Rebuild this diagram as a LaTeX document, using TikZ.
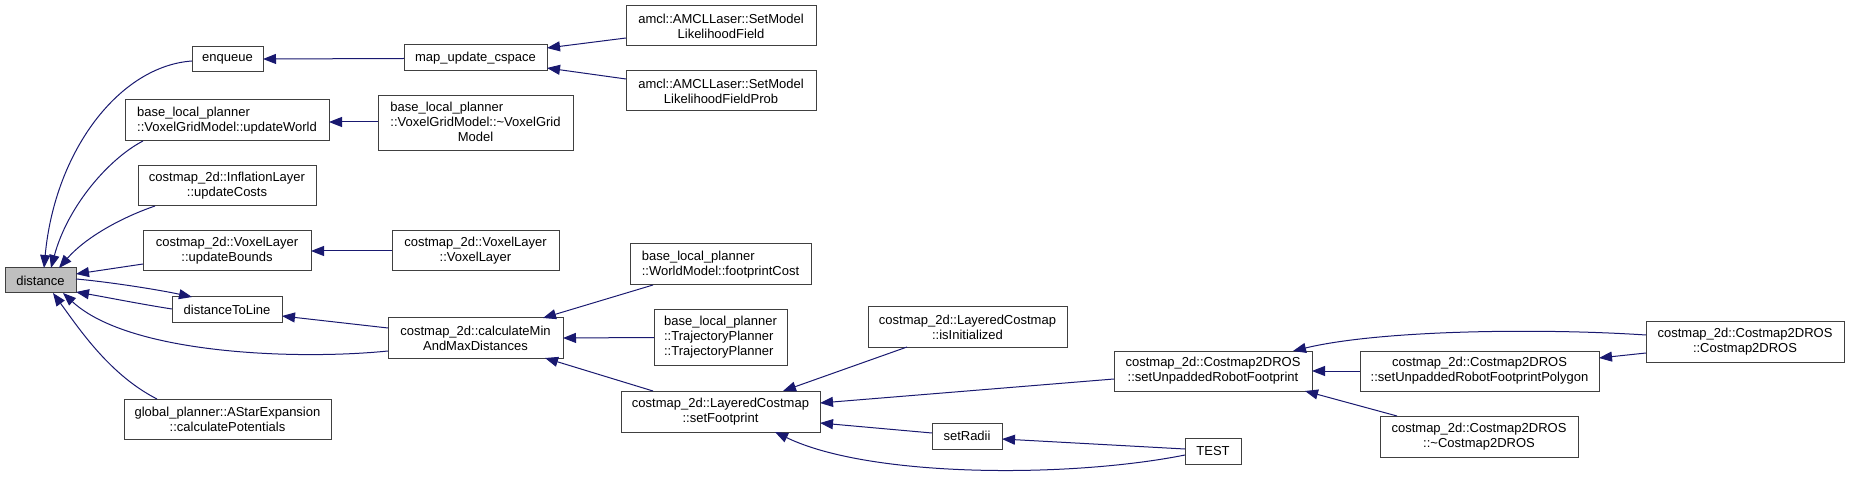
\documentclass[tikz,border=0pt]{standalone}
\usepackage{fontspec}
\setmainfont{Liberation Sans}
\usetikzlibrary{arrows.meta}
\definecolor{edgeblue}{HTML}{191970}
\definecolor{nodeborder}{HTML}{404040}
\definecolor{hlfill}{HTML}{BFBFBF}
\newcommand\gbox[7][]{\node[gnode,#1,minimum width={(#5-#3)*0.75pt},minimum height={(#6-#4)*0.75pt}] (#2) at ({(#3+#5)/2},{(#4+#6)/2}) {#7};}
\tikzset{
  gnode/.style={draw=nodeborder, fill=white, inner sep=0pt, outer sep=0pt, line width=0.75pt,
    font=\fontsize{9.75pt}{11.25pt}\selectfont, align=center},
  gedge/.style={draw=edgeblue, line width=0.75pt, -{Triangle[length=9.75pt,width=7.5pt,fill=edgeblue]}}
}
\begin{document}
\begin{tikzpicture}[x=0.75pt,y=-0.75pt]
\fill[white] (0,0) rectangle (1849,477);
\useasboundingbox (0,0) rectangle (1849,477);
% rank 0
\gbox[fill=hlfill]{dist}{5}{268}{76}{293}{distance}
% rank 1
\gbox{enq}{192}{47}{263}{72}{enqueue}
\gbox[align=left]{uw}{125}{100}{329}{141}{base\_local\_planner\\::VoxelGridModel::updateWorld}
\gbox{uc}{138}{166}{316}{206}{costmap\_2d::InflationLayer\\::updateCosts}
\gbox{ub}{143}{231}{311}{271}{costmap\_2d::VoxelLayer\\::updateBounds}
\gbox{dtl}{172}{297}{282}{323}{distanceToLine}
\gbox{cp}{124}{399}{331}{439}{global\_planner::AStarExpansion\\::calculatePotentials}
% rank 2
\gbox{muc}{404}{45}{547}{71}{map\_update\_cspace}
\gbox{vgm}{378}{96}{573}{151}{\begin{tabular}{@{}l@{}}base\_local\_planner\\::VoxelGridModel::\textasciitilde VoxelGrid\\\multicolumn{1}{@{}c@{}}{Model}\end{tabular}}
\gbox{vl}{392}{231}{559}{271}{costmap\_2d::VoxelLayer\\::VoxelLayer}
\gbox{cmm}{388}{318}{563}{358}{costmap\_2d::calculateMin\\AndMaxDistances}
% rank 3
\gbox{lf}{626}{6}{816}{46}{amcl::AMCLLaser::SetModel\\LikelihoodField}
\gbox{lfp}{626}{71}{816}{111}{amcl::AMCLLaser::SetModel\\LikelihoodFieldProb}
\gbox[align=left]{fc}{630}{244}{811}{285}{base\_local\_planner\\::WorldModel::footprintCost}
\gbox[align=left]{tp}{654}{310}{787}{365}{base\_local\_planner\\::TrajectoryPlanner\\::TrajectoryPlanner}
\gbox{sf}{621}{391}{820}{432}{costmap\_2d::LayeredCostmap\\::setFootprint}
% rank 4
\gbox{ii}{868}{307}{1067}{347}{costmap\_2d::LayeredCostmap\\::isInitialized}
\gbox{sr}{932}{423}{1002}{449}{setRadii}
% rank 5
\gbox{sur}{1114}{351}{1312}{391}{costmap\_2d::Costmap2DROS\\::setUnpaddedRobotFootprint}
\gbox{test}{1185}{438}{1241}{464}{TEST}
% rank 6
\gbox{surp}{1360}{351}{1599}{391}{costmap\_2d::Costmap2DROS\\::setUnpaddedRobotFootprintPolygon}
\gbox{dc}{1380}{416}{1578}{457}{costmap\_2d::Costmap2DROS\\::\textasciitilde Costmap2DROS}
% rank 7
\gbox{cc}{1646}{322}{1844}{362}{costmap\_2d::Costmap2DROS\\::Costmap2DROS}
% edges
\draw[gedge] ([shift={(0,1.5)}]enq.west) .. controls (120,66) and (55,150) .. ([shift={(39,0)}]dist.north west);
\draw[gedge] ([shift={(18,0)}]uw.south west) .. controls (110,158) and (68,205) .. ([shift={(46,0)}]dist.north west);
\draw[gedge] ([shift={(17,0)}]uc.south west) .. controls (120,218) and (85,238) .. ([shift={(54,0)}]dist.north west);
\draw[gedge] ([shift={(0,13)}]ub.west) -- ([shift={(0,-6.5)}]dist.east);
\draw[gedge] ([shift={(0,-1.5)}]dist.east) .. controls (110,282) and (160,290) .. ([shift={(20,0)}]dtl.north west);
\draw[gedge] ([shift={(0,-1)}]dtl.west) .. controls (140,304) and (105,297) .. ([shift={(0,-1)}]dist.south east);
\draw[gedge] ([shift={(0,13)}]cmm.west) .. controls (300,360) and (130,355) .. ([shift={(58,0)}]dist.south west);
\draw[gedge] ([shift={(33,0)}]cp.north west) .. controls (110,375) and (80,330) .. ([shift={(48,0)}]dist.south west);
\draw[gedge] ([shift={(0,0.5)}]muc.west) -- ([shift={(0,-0.5)}]enq.east);
\draw[gedge] ([shift={(0,-1.5)}]vgm.west) -- ([shift={(0,1.5)}]uw.east);
\draw[gedge] (vl.west) -- (ub.east);
\draw[gedge] ([shift={(0,12)}]lf.west) -- ([shift={(0,-10)}]muc.east);
\draw[gedge] ([shift={(0,-12)}]lfp.west) -- ([shift={(0,10)}]muc.east);
\draw[gedge] ([shift={(0,-10)}]cmm.west) -- ([shift={(0,6)}]dtl.east);
\draw[gedge] ([shift={(23,0)}]fc.south west) -- ([shift={(-20,0)}]cmm.north east);
\draw[gedge] (tp.west) -- (cmm.east);
\draw[gedge] ([shift={(32,0)}]sf.north west) -- ([shift={(-18,0)}]cmm.south east);
\draw[gedge] ([shift={(39,0)}]ii.south west) -- ([shift={(-37,0)}]sf.north east);
\draw[gedge] ([shift={(0,8)}]sur.west) -- ([shift={(0,-8.5)}]sf.east);
\draw[gedge] ([shift={(0,-3)}]sr.west) -- ([shift={(0,11.5)}]sf.east);
\draw[gedge] ([shift={(0,4)}]test.west) .. controls (1070,478) and (870,478) .. ([shift={(-45,0)}]sf.south east);
\draw[gedge] ([shift={(0,-2)}]test.west) -- ([shift={(0,3)}]sr.east);
\draw[gedge] (surp.west) -- (sur.east);
\draw[gedge] ([shift={(17,0)}]dc.north west) -- ([shift={(-7,0)}]sur.south east);
\draw[gedge] ([shift={(0,-7)}]cc.west) .. controls (1540,328) and (1380,330) .. ([shift={(-19,0)}]sur.north east);
\draw[gedge] ([shift={(0,11)}]cc.west) -- ([shift={(0,-13)}]surp.east);
\end{tikzpicture}
\end{document}
